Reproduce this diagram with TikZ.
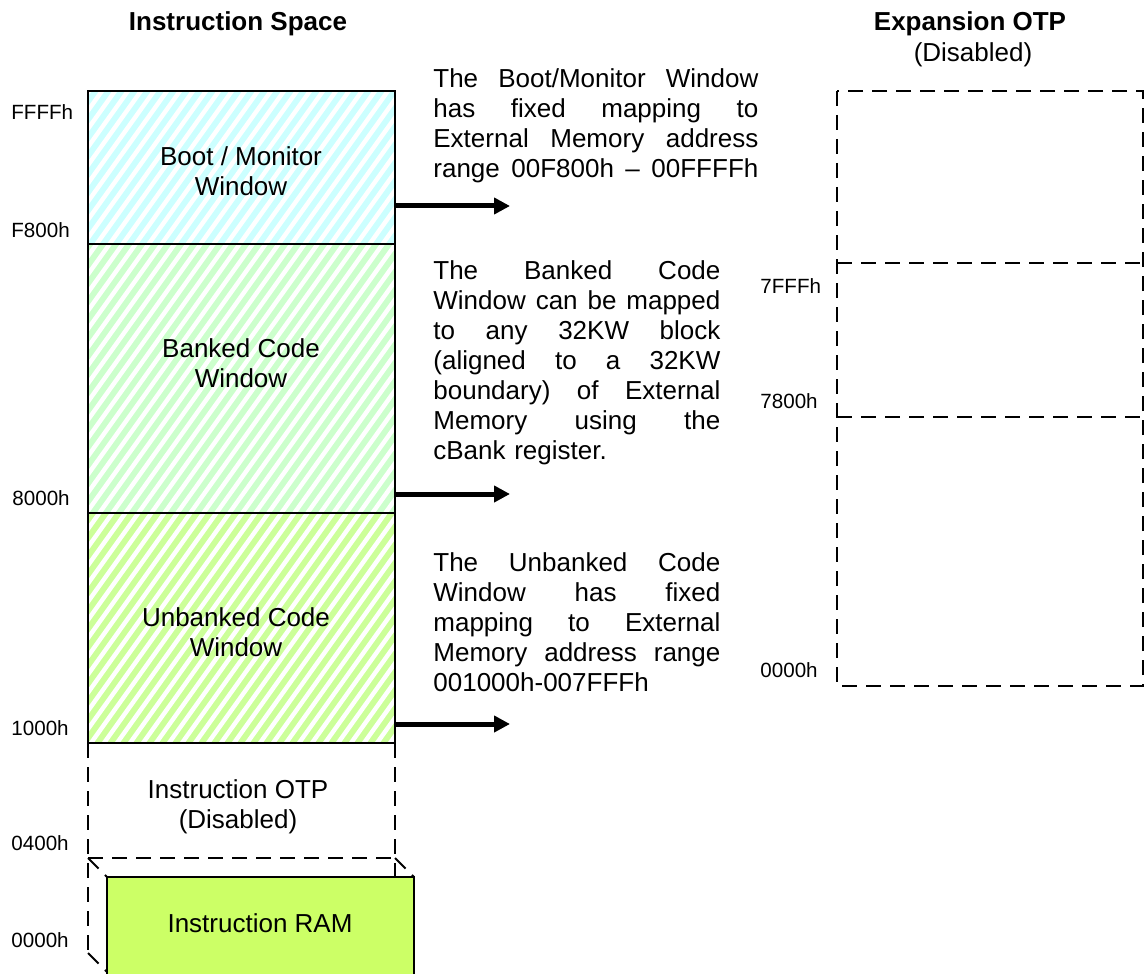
\documentclass[tikz,border=0pt]{standalone}
\usepackage{fontspec}
\setmainfont{Liberation Sans}
\usetikzlibrary{arrows.meta}

\definecolor{bootcol}{HTML}{CCFFFF}
\definecolor{bankcol}{HTML}{CCFFCC}
\definecolor{ubankcol}{HTML}{CCFF99}
\definecolor{ramcol}{HTML}{CCFF66}

\newlength{\notewd}
\newcommand{\jline}[1]{\hbox to \notewd{\spaceskip=0.278em plus 1fil\relax #1}\par}
\newcommand{\lline}[1]{\hbox to \notewd{#1\hfil}\par}

\tikzset{
	memline/.style={line width=1pt},
	dashline/.style={line width=1pt, dash pattern=on 7.5pt off 4.5pt},
	stripe/.style={white, line width=2.2pt},
	addr/.style={font=\fontsize{10.3}{12}\selectfont, anchor=base west},
	boxtext/.style={font=\fontsize{13}{15}\selectfont, align=center},
	notetext/.style={font=\fontsize{13}{15}\selectfont, anchor=north west, text width=#1,
		execute at begin node={\setlength{\notewd}{#1}\parindent=0pt}},
	heading/.style={font=\fontsize{13}{15}\selectfont\bfseries, anchor=base},
	maparrow/.style={line width=2.5pt, -{Triangle[length=8pt,width=8pt]}}
}

\begin{document}
\begin{tikzpicture}[x=0.5pt,y=-0.5pt, every node/.style={inner sep=0pt}]
			\useasboundingbox (0,0) rectangle (1144,973);
			\fill[bootcol] (88,91) rectangle (395,244);
			\fill[bankcol] (88,244) rectangle (395,513);
			\fill[ubankcol] (88,513) rectangle (395,743);
			\begin{scope}
				\clip (88,91) rectangle (395,743);
				\foreach \s in {-520,-507,...,400}
					\draw[stripe] (\s,743) -- ++(466,-652);
			\end{scope}
			\draw[memline] (88,91) rectangle (395,743);
			\draw[memline] (88,244) -- (395,244);
			\draw[memline] (88,513) -- (395,513);
			\draw[dashline] (88,743) -- (88,953);
			\draw[dashline] (395,743) -- (395,877);
			\draw[dashline] (88,858) -- (395,858);
			\draw[dashline] (88,858) -- (107,877);
			\draw[dashline] (395,858) -- (414,877);
			\draw[dashline] (88,953) -- (107,972);
			\draw[memline, fill=ramcol] (107,877) rectangle (414,976);
			\draw[dashline] (837,91) rectangle (1143,686);
			\draw[dashline] (837,263) -- (1143,263);
			\draw[dashline] (837,417) -- (1143,417);

			\node[heading] (ispace) at (238,31) {Instruction Space};
			\node[heading] (eotp) at (970,31) {Expansion OTP};
			\node[boxtext, anchor=base] (eotpdis) at (973,62) {(Disabled)};

			\node[boxtext] (boot) at (241,171) {Boot / Monitor\\Window};
			\node[boxtext] (banked) at (241,363) {Banked Code\\Window};
			\node[boxtext] (unbanked) at (236,632) {Unbanked Code\\Window};
			\node[boxtext] (iotp) at (238,807) {Instruction OTP\\(Disabled)};
			\node[boxtext] (iram) at (260,923) {Instruction RAM};

			\node[addr] (aFFFF) at (11,120) {FFFFh};
			\node[addr] (aF800) at (11,237) {F800h};
			\node[addr] (a8000) at (12,505) {8000h};
			\node[addr] (a1000) at (11,735) {1000h};
			\node[addr] (a0400) at (11,850) {0400h};
			\node[addr] (a0000) at (11,947) {0000h};
			\node[addr] (e7FFF) at (760,293) {7FFFh};
			\node[addr] (e7800) at (760,408) {7800h};
			\node[addr] (e0000) at (760,677) {0000h};

			\node[notetext=162.5pt] (bootnote) at (433,68) {%
				\jline{The Boot/Monitor Window}
				\jline{has fixed mapping to}
				\jline{External Memory address}
				\jline{range 00F800h – 00FFFFh}};
			\node[notetext=143.5pt] (banknote) at (433,260) {%
				\jline{The Banked Code}
				\jline{Window can be mapped}
				\jline{to any 32KW block}
				\jline{(aligned to a 32KW}
				\jline{boundary) of External}
				\jline{Memory using the}
				\lline{cBank register.}};
			\node[notetext=143.5pt] (ubanknote) at (433,552) {%
				\jline{The Unbanked Code}
				\jline{Window has fixed}
				\jline{mapping to External}
				\jline{Memory address range}
				\lline{001000h-007FFFh}};

			\coordinate (bootR) at (395,206);
			\coordinate (bootT) at (510,206);
			\coordinate (bankR) at (395,494);
			\coordinate (bankT) at (510,494);
			\coordinate (ubankR) at (395,724);
			\coordinate (ubankT) at (510,724);
			\draw[maparrow] (bootR) -- (bootT);
			\draw[maparrow] (bankR) -- (bankT);
			\draw[maparrow] (ubankR) -- (ubankT);
		\end{tikzpicture}
\end{document}
